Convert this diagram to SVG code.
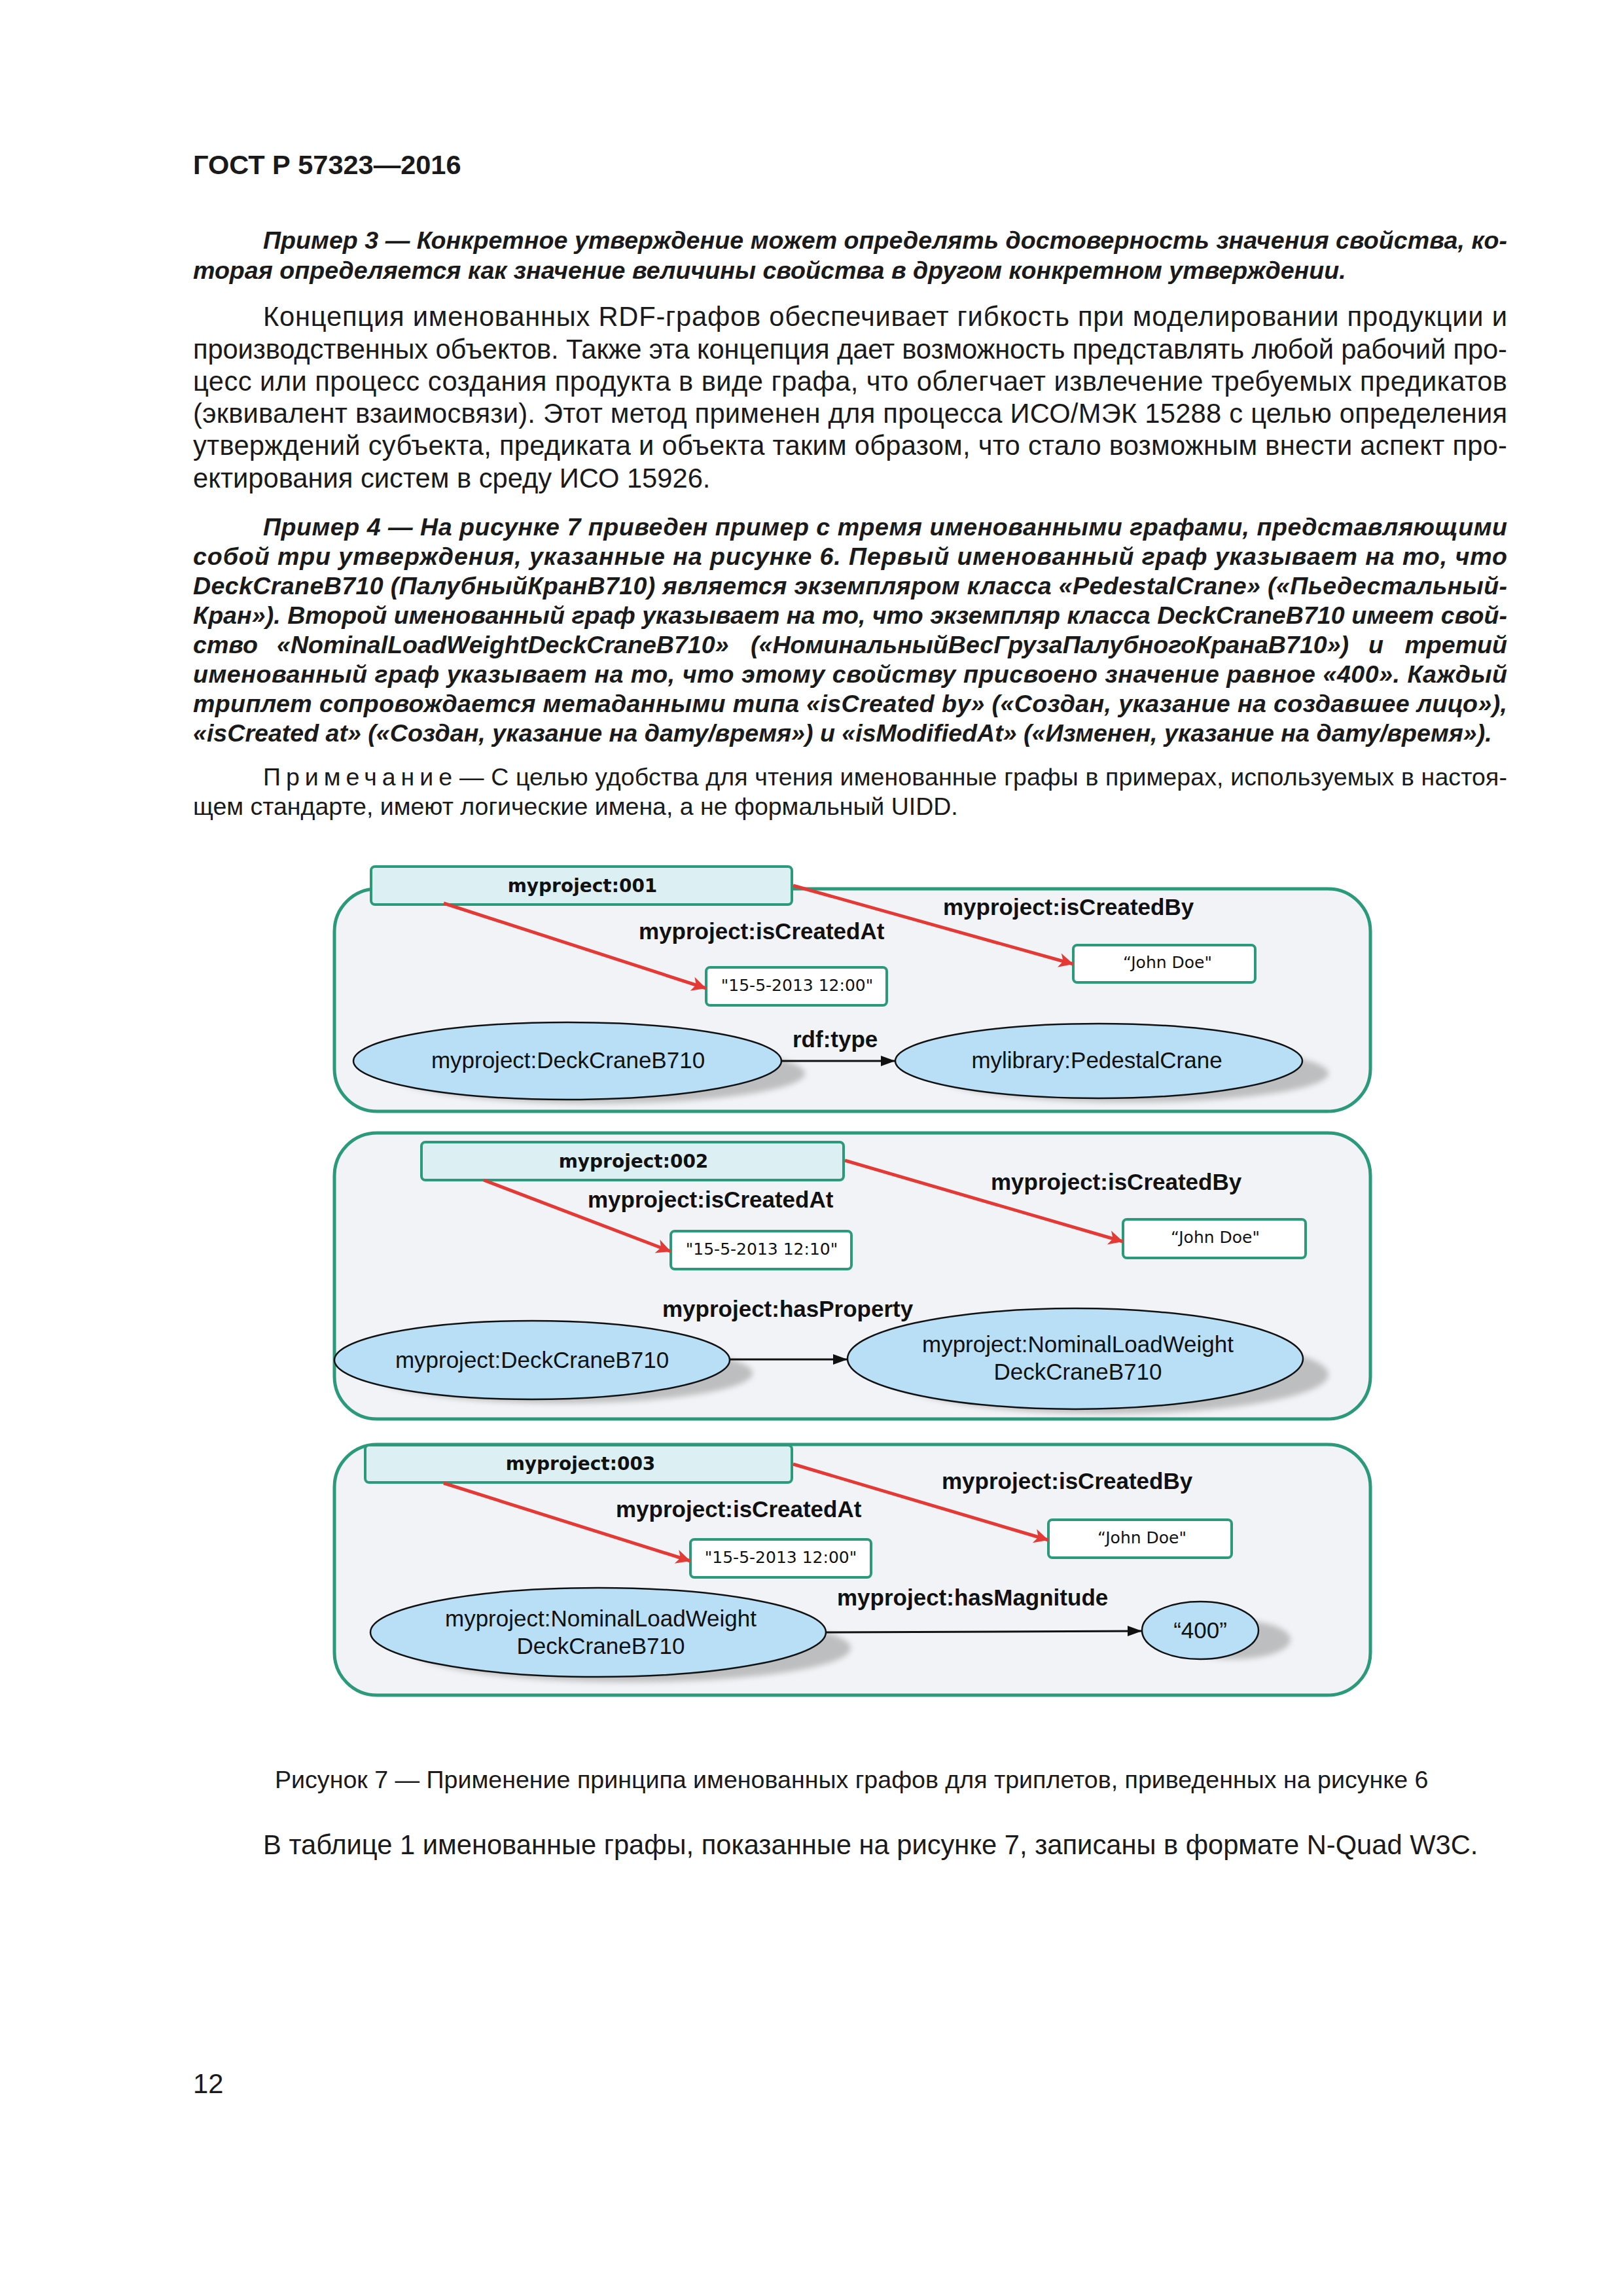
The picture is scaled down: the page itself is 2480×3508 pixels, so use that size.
<svg xmlns="http://www.w3.org/2000/svg" width="2480" height="3508" viewBox="0 0 2480 3508">
<defs>
<style>
.hdr{font-family:"Liberation Sans",Arial,sans-serif;font-weight:bold;font-size:41.5px;fill:#1a1a1a}
.bi{font-family:"Liberation Sans",Arial,sans-serif;font-weight:bold;font-style:italic;font-size:37.6px;fill:#1a1a1a}
.rg{font-family:"Liberation Sans",Arial,sans-serif;font-size:41.7px;fill:#1a1a1a}
.nt{font-family:"Liberation Sans",Arial,sans-serif;font-size:37.5px;fill:#1a1a1a}
.cap{font-family:"Liberation Sans",Arial,sans-serif;font-size:37.6px;fill:#1a1a1a}
.cont{fill:#f2f3f7;stroke:#2a9a7b;stroke-width:5}
.lbl{fill:#dcf0f3;stroke:#2a9a7b;stroke-width:4}
.lit{fill:#ffffff;stroke:#2a9a7b;stroke-width:4}
.ell{fill:#b8dff6;stroke:#111;stroke-width:2.5}
.shd{fill:#a8a8a8;opacity:0.7}
.gname{font-family:"DejaVu Sans",Verdana,sans-serif;font-weight:bold;font-size:28px;fill:#111;text-anchor:middle}
.ltxt{font-family:"DejaVu Sans",Verdana,sans-serif;font-size:25px;fill:#111;text-anchor:middle}
.etxt{font-family:"Liberation Sans",Arial,sans-serif;font-size:35px;fill:#111;text-anchor:middle}
.prop{font-family:"Liberation Sans",Arial,sans-serif;font-weight:bold;font-size:35px;fill:#111}
.red{stroke:#e53935;stroke-width:5;fill:none}
.blk{stroke:#111;stroke-width:3;fill:none}
</style>
<filter id="blur" x="-20%" y="-40%" width="140%" height="180%"><feGaussianBlur stdDeviation="4"/></filter>
<marker id="ar" markerUnits="userSpaceOnUse" markerWidth="30" markerHeight="26" refX="24" refY="13" orient="auto"><path d="M2,2 L24,13 L2,24 L8,13 z" fill="#e53935"/></marker>
<marker id="ab" markerUnits="userSpaceOnUse" markerWidth="26" markerHeight="20" refX="22" refY="10" orient="auto"><path d="M0,2 L22,10 L0,18 z" fill="#111"/></marker>
</defs>
<rect width="2480" height="3508" fill="#ffffff"/>

<g id="page-text">
<text class="hdr" x="295" y="266">ГОСТ Р 57323—2016</text>
<text class="bi" x="402" y="380" textLength="1901" lengthAdjust="spacing">Пример 3 — Конкретное утверждение может определять достоверность значения свойства, ко-</text>
<text class="bi" x="295" y="426">торая определяется как значение величины свойства в другом конкретном утверждении.</text>

<text class="rg" x="402" y="498" textLength="1901" lengthAdjust="spacing">Концепция именованных RDF-графов обеспечивает гибкость при моделировании продукции и</text>
<text class="rg" x="295" y="548" textLength="2008" lengthAdjust="spacing">производственных объектов. Также эта концепция дает возможность представлять любой рабочий про-</text>
<text class="rg" x="295" y="597" textLength="2008" lengthAdjust="spacing">цесс или процесс создания продукта в виде графа, что облегчает извлечение требуемых предикатов</text>
<text class="rg" x="295" y="646" textLength="2008" lengthAdjust="spacing">(эквивалент взаимосвязи). Этот метод применен для процесса ИСО/МЭК 15288 с целью определения</text>
<text class="rg" x="295" y="695" textLength="2008" lengthAdjust="spacing">утверждений субъекта, предиката и объекта таким образом, что стало возможным внести аспект про-</text>
<text class="rg" x="295" y="745">ектирования систем в среду ИСО 15926.</text>

<text class="bi" x="402" y="818" textLength="1901" lengthAdjust="spacing">Пример 4 — На рисунке 7 приведен пример с тремя именованными графами, представляющими</text>
<text class="bi" x="295" y="863" textLength="2008" lengthAdjust="spacing">собой три утверждения, указанные на рисунке 6. Первый именованный граф указывает на то, что</text>
<text class="bi" x="295" y="908" textLength="2008" lengthAdjust="spacing">DeckCraneB710 (ПалубныйКранB710) является экземпляром класса «PedestalCrane» («Пьедестальный-</text>
<text class="bi" x="295" y="953" textLength="2008" lengthAdjust="spacing">Кран»). Второй именованный граф указывает на то, что экземпляр класса DeckCraneB710 имеет свой-</text>
<text class="bi" x="295" y="998">ство</text>
<text class="bi" x="423" y="998">«NominalLoadWeightDeckCraneB710»</text>
<text class="bi" x="1147" y="998">(«НоминальныйВесГрузаПалубногоКранаB710»)</text>
<text class="bi" x="2091" y="998">и</text>
<text class="bi" x="2303" y="998" text-anchor="end">третий</text>
<text class="bi" x="295" y="1043" textLength="2008" lengthAdjust="spacing">именованный граф указывает на то, что этому свойству присвоено значение равное «400». Каждый</text>
<text class="bi" x="295" y="1088" textLength="2008" lengthAdjust="spacing">триплет сопровождается метаданными типа «isCreated by» («Создан, указание на создавшее лицо»),</text>
<text class="bi" x="295" y="1133">«isCreated at» («Создан, указание на дату/время») и «isModifiedAt» («Изменен, указание на дату/время»).</text>

<text class="nt" x="402" y="1200" letter-spacing="8">Примечание</text>
<text class="nt" x="702" y="1200" textLength="1601" lengthAdjust="spacing">— С целью удобства для чтения именованные графы в примерах, используемых в настоя-</text>
<text class="nt" x="295" y="1245">щем стандарте, имеют логические имена, а не формальный UIDD.</text>

<text class="cap" x="420" y="2732">Рисунок 7 — Применение принципа именованных графов для триплетов, приведенных на рисунке 6</text>
<text class="rg" x="402" y="2833">В таблице 1 именованные графы, показанные на рисунке 7, записаны в формате N-Quad W3C.</text>
<text class="rg" x="295" y="3198">12</text>
</g>

<!-- Containers -->
<g id="graph-001">
<rect class="cont" x="511" y="1358" width="1583" height="340" rx="65"/>
</g>
<g id="graph-002">
<rect class="cont" x="511" y="1731" width="1583" height="437" rx="65"/>
</g>
<g id="graph-003">
<rect class="cont" x="511" y="2207" width="1583" height="383" rx="65"/>
</g>

<!-- Ellipse nodes -->
<g id="n1-deckcrane">
<ellipse class="shd" filter="url(#blur)" cx="912" cy="1640" rx="318" ry="46"/>
<ellipse class="ell" cx="867" cy="1621" rx="327" ry="59"/>
<text class="etxt" x="868" y="1632">myproject:DeckCraneB710</text>
</g>
<g id="n1-pedestal">
<ellipse class="shd" filter="url(#blur)" cx="1727" cy="1640" rx="303" ry="44"/>
<ellipse class="ell" cx="1679" cy="1621" rx="311" ry="57"/>
<text class="etxt" x="1676" y="1632">mylibrary:PedestalCrane</text>
</g>
<g id="n2-deckcrane">
<ellipse class="shd" filter="url(#blur)" cx="857" cy="2098" rx="293" ry="46"/>
<ellipse class="ell" cx="813" cy="2078" rx="302" ry="60"/>
<text class="etxt" x="813" y="2090">myproject:DeckCraneB710</text>
</g>
<g id="n2-nominal">
<ellipse class="shd" filter="url(#blur)" cx="1692" cy="2100" rx="338" ry="60"/>
<ellipse class="ell" cx="1643" cy="2076" rx="348" ry="77"/>
<text class="etxt" x="1647" y="2066">myproject:NominalLoadWeight</text>
<text class="etxt" x="1647" y="2108">DeckCraneB710</text>
</g>
<g id="n3-nominal">
<ellipse class="shd" filter="url(#blur)" cx="962" cy="2518" rx="338" ry="52"/>
<ellipse class="ell" cx="914" cy="2494" rx="348" ry="68"/>
<text class="etxt" x="918" y="2485">myproject:NominalLoadWeight</text>
<text class="etxt" x="918" y="2527">DeckCraneB710</text>
</g>
<g id="n3-400">
<ellipse class="shd" filter="url(#blur)" cx="1884" cy="2505" rx="88" ry="30"/>
<ellipse class="ell" cx="1834" cy="2491" rx="89" ry="44"/>
<text class="etxt" x="1834" y="2503">“400”</text>
</g>

<!-- Graph names and literals -->
<g id="name-001">
<rect class="lbl" x="567" y="1324" width="643" height="58" rx="6"/>
<text class="gname" x="890" y="1363">myproject:001</text>
</g>
<g id="lit1-date">
<rect class="lit" x="1079" y="1478" width="276" height="58" rx="6"/>
<text class="ltxt" x="1218" y="1514">"15-5-2013 12:00"</text>
</g>
<g id="lit1-john">
<rect class="lit" x="1640" y="1444" width="278" height="57" rx="6"/>
<text class="ltxt" x="1784" y="1479">“John Doe"</text>
</g>
<g id="name-002">
<rect class="lbl" x="644" y="1745" width="645" height="58" rx="6"/>
<text class="gname" x="968" y="1784">myproject:002</text>
</g>
<g id="lit2-date">
<rect class="lit" x="1025" y="1881" width="276" height="58" rx="6"/>
<text class="ltxt" x="1164" y="1917">"15-5-2013 12:10"</text>
</g>
<g id="lit2-john">
<rect class="lit" x="1716" y="1863" width="279" height="59" rx="6"/>
<text class="ltxt" x="1857" y="1899">“John Doe"</text>
</g>
<g id="name-003">
<rect class="lbl" x="558" y="2208" width="652" height="57" rx="6"/>
<text class="gname" x="887" y="2246">myproject:003</text>
</g>
<g id="lit3-date">
<rect class="lit" x="1055" y="2352" width="276" height="58" rx="6"/>
<text class="ltxt" x="1193" y="2388">"15-5-2013 12:00"</text>
</g>
<g id="lit3-john">
<rect class="lit" x="1602" y="2322" width="280" height="58" rx="6"/>
<text class="ltxt" x="1745" y="2358">“John Doe"</text>
</g>

<!-- Connectors -->
<g id="connectors">
<line class="red" x1="678" y1="1380" x2="1079" y2="1510" marker-end="url(#ar)"/>
<line class="red" x1="1212" y1="1353" x2="1640" y2="1473" marker-end="url(#ar)"/>
<line class="blk" x1="1194" y1="1621" x2="1368" y2="1621" marker-end="url(#ab)"/>
<text class="prop" x="976" y="1435">myproject:isCreatedAt</text>
<text class="prop" x="1441" y="1398">myproject:isCreatedBy</text>
<text class="prop" x="1211" y="1600">rdf:type</text>

<line class="red" x1="739" y1="1803" x2="1025" y2="1912" marker-end="url(#ar)"/>
<line class="red" x1="1291" y1="1773" x2="1716" y2="1897" marker-end="url(#ar)"/>
<line class="blk" x1="1115" y1="2077" x2="1295" y2="2077" marker-end="url(#ab)"/>
<text class="prop" x="898" y="1845">myproject:isCreatedAt</text>
<text class="prop" x="1514" y="1818">myproject:isCreatedBy</text>
<text class="prop" x="1012" y="2012">myproject:hasProperty</text>

<line class="red" x1="678" y1="2266" x2="1055" y2="2385" marker-end="url(#ar)"/>
<line class="red" x1="1212" y1="2237" x2="1602" y2="2353" marker-end="url(#ar)"/>
<line class="blk" x1="1262" y1="2494" x2="1745" y2="2492" marker-end="url(#ab)"/>
<text class="prop" x="941" y="2318">myproject:isCreatedAt</text>
<text class="prop" x="1439" y="2275">myproject:isCreatedBy</text>
<text class="prop" x="1279" y="2453">myproject:hasMagnitude</text>
</g>
</svg>
